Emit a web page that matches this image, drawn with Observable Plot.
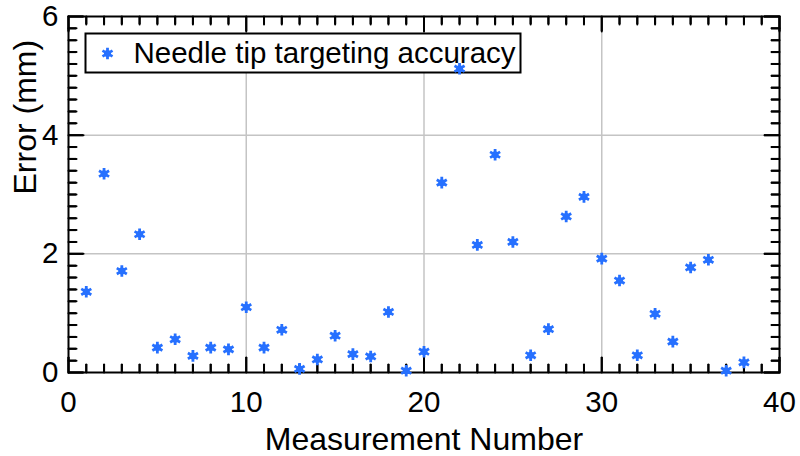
<!DOCTYPE html>
<html><head><meta charset="utf-8">
<script src="https://cdn.jsdelivr.net/npm/d3@7"></script>
<script src="https://cdn.jsdelivr.net/npm/@observablehq/plot@0.6"></script>
<style>
body{margin:0;background:#fff}
#chart svg{font-family:Arial,"Liberation Sans",sans-serif;background:#fff}
</style>
</head><body><div id="chart"></div>
<script>
const measurement = [1,2,3,4,5,6,7,8,9,10,11,12,13,14,15,16,17,18,19,20,21,22,23,24,25,26,27,28,29,30,31,32,33,34,35,36,37,38];
const errorMm = [1.36,3.35,1.71,2.33,0.42,0.56,0.28,0.42,0.39,1.10,0.42,0.72,0.06,0.22,0.62,0.31,0.27,1.02,0.03,0.35,3.20,5.12,2.15,3.67,2.20,0.29,0.73,2.63,2.96,1.92,1.55,0.29,0.99,0.52,1.77,1.90,0.03,0.17];
const xMajorTicks = [0,10,20,30,40];
const yMajorTicks = [0,2,4,6];
const xGrid = [10,20,30];
const yGrid = [2,4];
const seriesName = "Needle tip targeting accuracy";
const xLabel = "Measurement Number";
const yLabel = "Error (mm)";

const xMinor = d3.range(0, 41, 1).filter(v => v % 10 !== 0);
const yMinor = d3.range(0, 31, 1).map(v => v / 5).filter(v => Math.abs(v / 2 - Math.round(v / 2)) > 1e-6);
const data = measurement.map((m, i) => ({m, e: errorMm[i]}));
const blue = "#2670ff";
const fs = 29.5;

const W = 800, H = 456, mL = 68, mR = 21, mT = 16, mB = 84;
const pw = W - mL - mR, ph = H - mT - mB;
const minorLen = 8, majorLen = 15;
const tickStyle = {stroke: "#000", strokeWidth: 2};
const tickShape = {draw(context, l) { context.moveTo(0, 0); context.lineTo(0, -l); }};
const vt = (vals, ch, frameAnchor, rotate, length) =>
  Plot.vector(vals, {[ch]: d => d, frameAnchor, rotate, length, anchor: "start", shape: tickShape, ...tickStyle});

const chart = Plot.plot({
  width: W, height: H,
  marginLeft: mL, marginRight: mR, marginTop: mT, marginBottom: mB,
  x: {domain: [0, 40]},
  y: {domain: [0, 6]},
  marks: [
    Plot.gridX(xGrid, {stroke: "#c4c4c4", strokeOpacity: 1, strokeWidth: 1.5}),
    Plot.gridY(yGrid, {stroke: "#c4c4c4", strokeOpacity: 1, strokeWidth: 1.5}),
    // tick labels
    Plot.axisX(xMajorTicks, {anchor: "bottom", tickSize: 0, tickPadding: 19, fontSize: fs, label: null, tickFormat: d => String(d)}),
    Plot.axisY(yMajorTicks, {anchor: "left", tickSize: 0, tickPadding: 10, fontSize: fs, label: null, tickFormat: d => String(d)}),
    // inward ticks (lines)
    Plot.ruleX(xMajorTicks, {x: d => d, insetTop: ph - majorLen, ...tickStyle}),
    Plot.ruleX(xMinor, {x: d => d, insetTop: ph - minorLen, ...tickStyle}),
    Plot.ruleX(xMajorTicks, {x: d => d, insetBottom: ph - majorLen, ...tickStyle}),
    Plot.ruleX(xMinor, {x: d => d, insetBottom: ph - minorLen, ...tickStyle}),
    Plot.ruleY(yMajorTicks, {y: d => d, insetRight: pw - majorLen, ...tickStyle}),
    Plot.ruleY(yMinor, {y: d => d, insetRight: pw - minorLen, ...tickStyle}),
    Plot.ruleY(yMajorTicks, {y: d => d, insetLeft: pw - majorLen, ...tickStyle}),
    Plot.ruleY(yMinor, {y: d => d, insetLeft: pw - minorLen, ...tickStyle}),
    // inward ticks (paths)
    vt(xMajorTicks, "x", "bottom", 0, majorLen),
    vt(xMinor, "x", "bottom", 0, minorLen),
    vt(xMajorTicks, "x", "top", 180, majorLen),
    vt(xMinor, "x", "top", 180, minorLen),
    vt(yMajorTicks, "y", "left", 90, majorLen),
    vt(yMinor, "y", "left", 90, minorLen),
    vt(yMajorTicks, "y", "right", -90, majorLen),
    vt(yMinor, "y", "right", -90, minorLen),
    Plot.frame({stroke: "#000", strokeWidth: 2}),
    // axis titles
    Plot.text([xLabel], {frameAnchor: "bottom", dy: 67, lineAnchor: "middle", fontSize: 32, fill: "#000"}),
    Plot.text([yLabel], {frameAnchor: "left", dx: -43, rotate: -90, lineAnchor: "middle", fontSize: 32, fill: "#000"}),
    // legend
    Plot.frame({insetLeft: 17, insetTop: 17, insetRight: 259, insetBottom: 300, fill: "#fff", stroke: "#000", strokeWidth: 2}),
    Plot.dot([seriesName], {frameAnchor: "top-left", dx: 39, dy: 37, r: 3.5, fill: blue, stroke: "none"}),
    Plot.dot([seriesName], {frameAnchor: "top-left", dx: 39, dy: 37, symbol: "asterisk", r: 5.5, stroke: blue, strokeWidth: 2.8}),
    Plot.text([seriesName], {frameAnchor: "top-left", dx: 65, dy: 37, textAnchor: "start", lineAnchor: "middle", fontSize: fs, fill: "#000"}),
    // data
    Plot.dot(data, {x: "m", y: "e", r: 3.5, fill: blue, stroke: "none"}),
    Plot.dot(data, {x: "m", y: "e", symbol: "asterisk", r: 5.5, stroke: blue, strokeWidth: 2.8})
  ]
});
document.getElementById("chart").appendChild(chart);
</script>
</body></html>
